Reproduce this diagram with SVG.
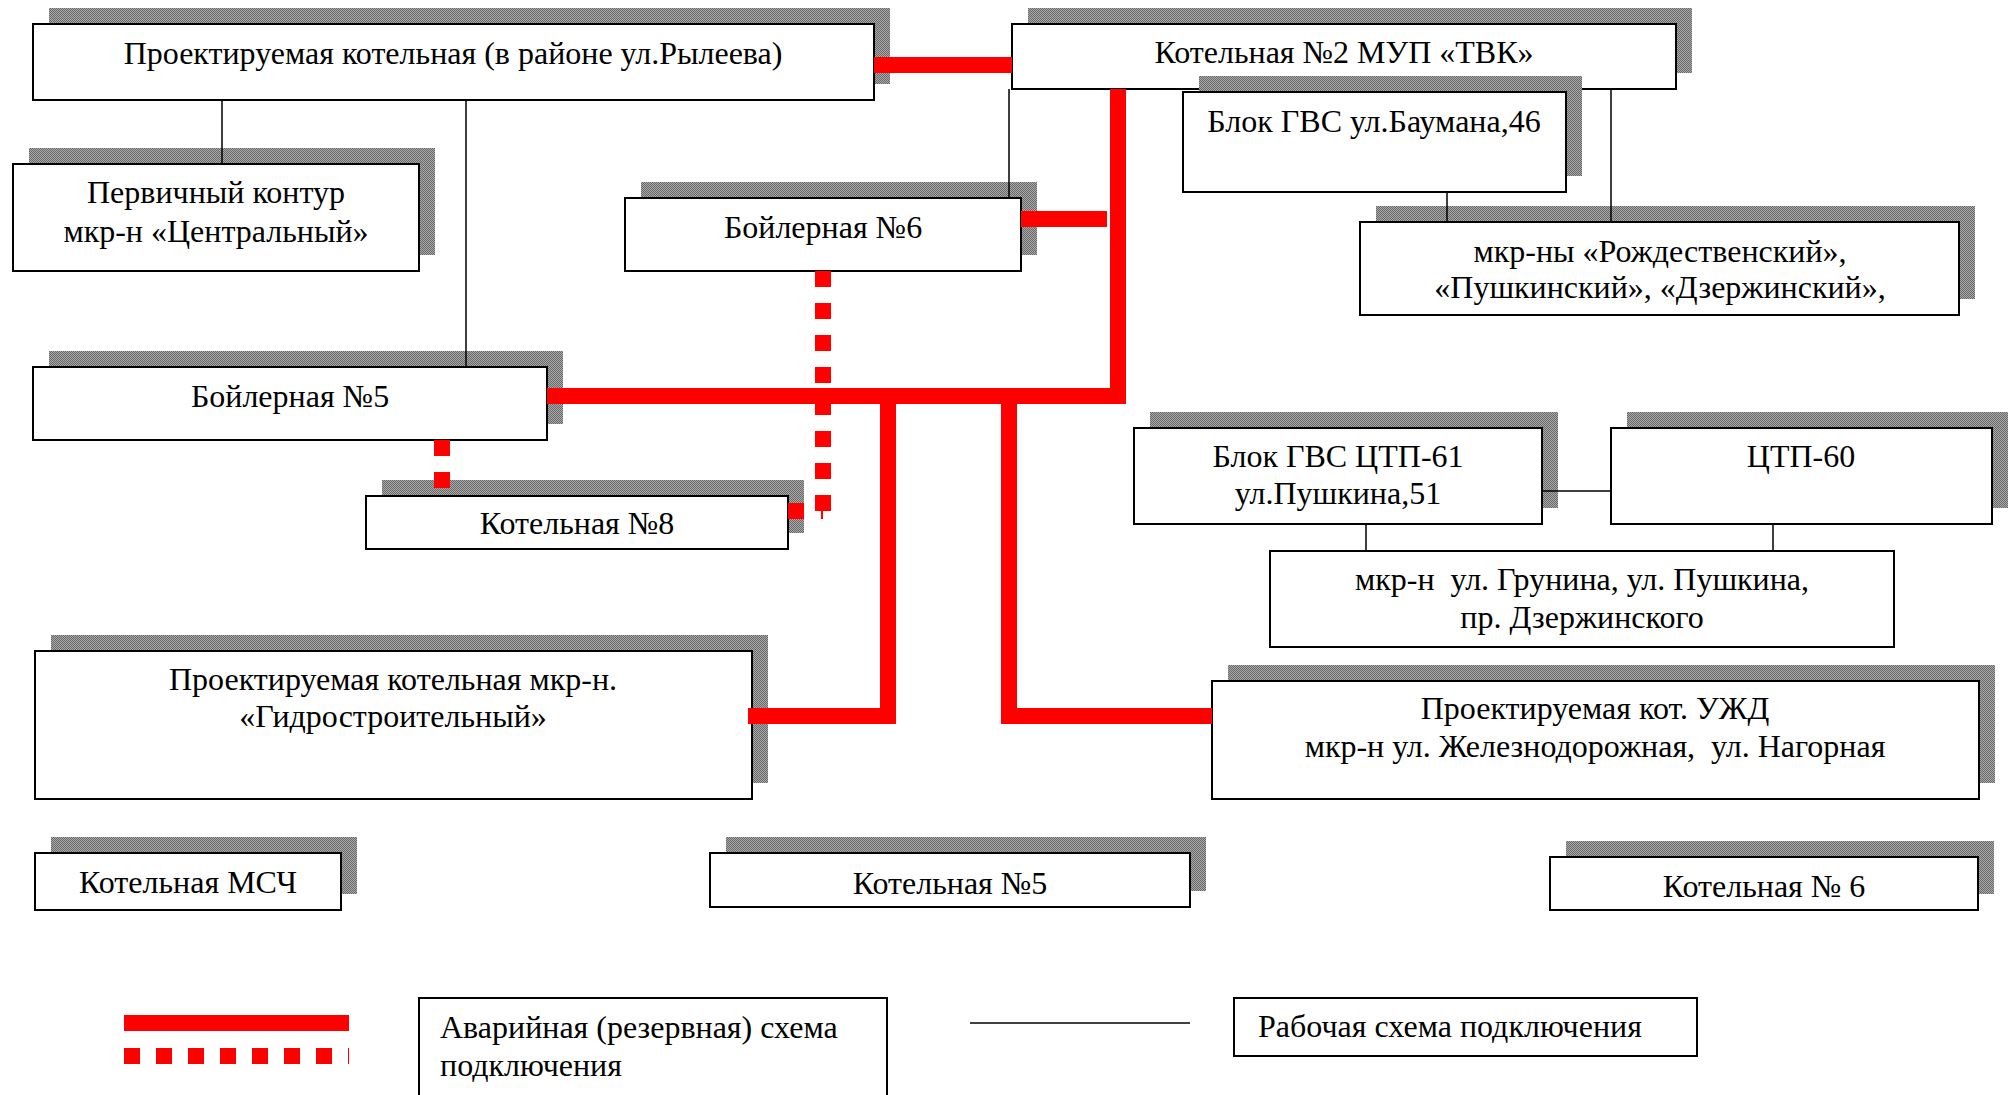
<svg xmlns="http://www.w3.org/2000/svg" width="2011" height="1095" viewBox="0 0 2011 1095">
<defs>
<pattern id="dots" width="2" height="2" patternUnits="userSpaceOnUse">
<rect width="2" height="2" fill="#a8a8a8"/>
<rect width="1" height="1" fill="#6a6a6a"/>
<rect x="1" y="1" width="1" height="1" fill="#6a6a6a"/>
</pattern>
</defs>
<style>
.sh{fill:url(#dots);}
.bx{fill:#fff;stroke:#000;stroke-width:2;}
.t{font-family:"Liberation Serif","Times New Roman",serif;font-size:32px;fill:#000;text-anchor:middle;}
.tl{font-family:"Liberation Serif","Times New Roman",serif;font-size:32px;fill:#000;}
.thin{stroke:#000;stroke-width:1.5;fill:none;}
.red{stroke:#ff0000;stroke-width:16;fill:none;stroke-linejoin:miter;stroke-linecap:butt;}
.redd{stroke:#ff0000;stroke-width:16;fill:none;stroke-dasharray:16 16;}
</style>
<rect width="2011" height="1095" fill="#fff"/>
<g id="n-rylevea"><rect class="sh" x="49" y="8" width="841" height="76"/><rect class="bx" x="33" y="24" width="841" height="76"/><text class="t" x="453" y="64">Проектируемая котельная (в районе ул.Рылеева)</text></g>
<g id="n-pervichny"><rect class="sh" x="29" y="148" width="406" height="107"/><rect class="bx" x="13" y="164" width="406" height="107"/><text class="t" x="216" y="203">Первичный контур</text><text class="t" x="216" y="242">мкр-н «Центральный»</text></g>
<g id="n-kot2"><rect class="sh" x="1028" y="8" width="664" height="65"/><rect class="bx" x="1012" y="24" width="664" height="65"/><text class="t" x="1344" y="63">Котельная №2 МУП «ТВК»</text></g>
<g id="n-gvs-bauman"><rect class="sh" x="1199" y="76" width="383" height="100"/><rect class="bx" x="1183" y="92" width="383" height="100"/><text class="t" x="1374" y="132">Блок ГВС ул.Баумана,46</text></g>
<g id="n-rozhd"><rect class="sh" x="1376" y="206" width="599" height="93"/><rect class="bx" x="1360" y="222" width="599" height="93"/><text class="t" x="1660" y="262">мкр-ны «Рождественский»,</text><text class="t" x="1660" y="298">«Пушкинский», «Дзержинский»,</text></g>
<g id="n-boil6"><rect class="sh" x="641" y="182" width="396" height="73"/><rect class="bx" x="625" y="198" width="396" height="73"/><text class="t" x="823" y="238">Бойлерная №6</text></g>
<g id="n-boil5"><rect class="sh" x="49" y="351" width="514" height="73"/><rect class="bx" x="33" y="367" width="514" height="73"/><text class="t" x="290" y="407">Бойлерная №5</text></g>
<g id="n-kot8"><rect class="sh" x="382" y="480" width="422" height="53"/><rect class="bx" x="366" y="496" width="422" height="53"/><text class="t" x="577" y="534">Котельная №8</text></g>
<g id="n-ctp61"><rect class="sh" x="1150" y="412" width="408" height="96"/><rect class="bx" x="1134" y="428" width="408" height="96"/><text class="t" x="1338" y="467">Блок ГВС ЦТП-61</text><text class="t" x="1338" y="504">ул.Пушкина,51</text></g>
<g id="n-ctp60"><rect class="sh" x="1627" y="412" width="381" height="96"/><rect class="bx" x="1611" y="428" width="381" height="96"/><text class="t" x="1801" y="467">ЦТП-60</text></g>
<g id="n-grunina"><rect class="bx" x="1270" y="551" width="624" height="96"/><text class="t" x="1582" y="590" xml:space="preserve">мкр-н  ул. Грунина, ул. Пушкина,</text><text class="t" x="1582" y="628">пр. Дзержинского</text></g>
<g id="n-uzhd"><rect class="sh" x="1228" y="665" width="767" height="118"/><rect class="bx" x="1212" y="681" width="767" height="118"/><text class="t" x="1595" y="719">Проектируемая кот. УЖД</text><text class="t" x="1595" y="757" xml:space="preserve">мкр-н ул. Железнодорожная,  ул. Нагорная</text></g>
<g id="n-gidro"><rect class="sh" x="51" y="635" width="717" height="148"/><rect class="bx" x="35" y="651" width="717" height="148"/><text class="t" x="393" y="690">Проектируемая котельная мкр-н.</text><text class="t" x="393" y="727">«Гидростроительный»</text></g>
<g id="n-msch"><rect class="sh" x="51" y="837" width="306" height="57"/><rect class="bx" x="35" y="853" width="306" height="57"/><text class="t" x="188" y="893">Котельная МСЧ</text></g>
<g id="n-kot5"><rect class="sh" x="726" y="837" width="480" height="54"/><rect class="bx" x="710" y="853" width="480" height="54"/><text class="t" x="950" y="894">Котельная №5</text></g>
<g id="n-kot6"><rect class="sh" x="1566" y="841" width="428" height="53"/><rect class="bx" x="1550" y="857" width="428" height="53"/><text class="t" x="1764" y="897">Котельная № 6</text></g>
<g id="connectors">
<path class="thin" d="M222,100V164M466,100V367M1009,89V198M1447,192V222M1611,89V222M1542,491H1611M1366,524V551M1773,524V551"/>
<path class="red" d="M874,65H1012"/>
<path class="red" d="M1118,89V396H547"/>
<path class="red" d="M1021,219H1107"/>
<path class="red" d="M888,396V716H748"/>
<path class="red" d="M1009,396V716H1212"/>
<path class="redd" d="M823,271V511"/>
<rect x="788" y="503" width="16" height="16" fill="#ff0000"/>
<path d="M822,511V519" stroke="#ff0000" stroke-width="2"/>
<path class="redd" d="M442,440V488"/>
</g>
<g id="legend">
<rect x="124" y="1015" width="225" height="16" fill="#ff0000"/>
<path class="redd" d="M124,1056H349"/>
<rect class="bx" x="419" y="998" width="468" height="110"/>
<text class="tl" x="440" y="1038">Аварийная (резервная) схема</text>
<text class="tl" x="440" y="1076">подключения</text>
<path class="thin" d="M970,1023H1190"/>
<rect class="bx" x="1234" y="998" width="463" height="58"/>
<text class="tl" x="1258" y="1037">Рабочая схема подключения</text>
</g>
</svg>
